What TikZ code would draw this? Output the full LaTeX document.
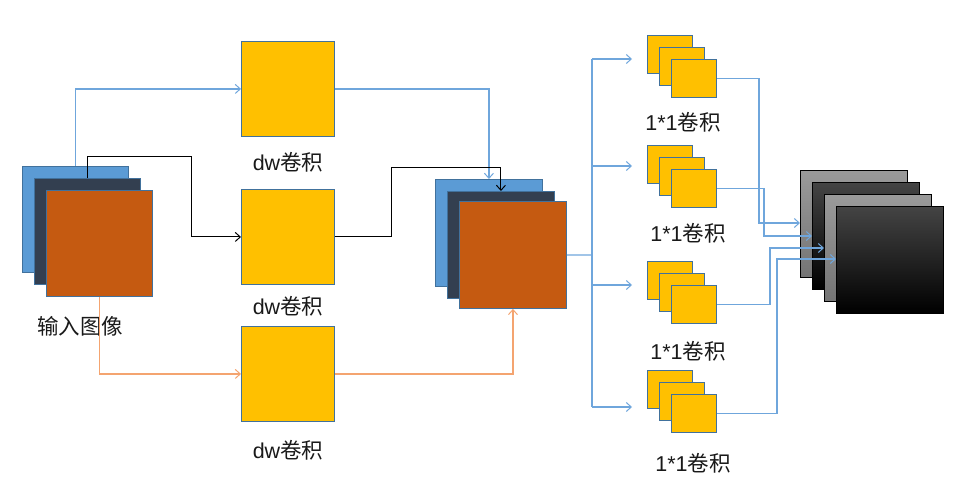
\documentclass[tikz,border=0pt]{standalone}
\usepackage{fontspec}
\setmainfont{Liberation Sans}
\newfontfamily\cjk{Noto Sans CJK SC}
\usetikzlibrary{arrows.meta}
\definecolor{cblue}{HTML}{5B9BD5}
\definecolor{cdark}{HTML}{333F50}
\definecolor{corange}{HTML}{C55A11}
\definecolor{cyellow}{HTML}{FFC000}
\definecolor{cborder}{HTML}{41719C}
\definecolor{lblue}{HTML}{6FA6DC}
\definecolor{lorange}{HTML}{F4A470}
\definecolor{gtop}{HTML}{9A9A9A}
\definecolor{gbot}{HTML}{747474}
\definecolor{dtop}{HTML}{444444}
\tikzset{
  x=1pt,y=-1pt,
  sq/.style={draw=cborder,line width=0.9pt,rectangle,inner sep=0pt,anchor=north west,minimum width=#1,minimum height=#1},
  big/.style={sq=106pt},
  dwbox/.style={draw=cborder,line width=0.9pt,fill=cyellow,rectangle,inner sep=0pt,anchor=north west,minimum width=93pt,minimum height=95pt},
  small/.style={draw=cborder,line width=0.9pt,fill=cyellow,rectangle,inner sep=0pt,anchor=north west,minimum width=45pt,minimum height=38pt},
  outg/.style={draw=black,line width=0.9pt,rectangle,inner sep=0pt,anchor=north west,minimum width=107pt,minimum height=107pt,top color=gtop,bottom color=gbot},
  outd/.style={draw=black,line width=0.9pt,rectangle,inner sep=0pt,anchor=north west,minimum width=107pt,minimum height=107pt,top color=dtop,middle color=black,bottom color=black},
  lab/.style={font=\fontsize{21.5}{26}\selectfont,text=black!90,inner sep=0pt},
  tip/.style={-{Straight Barb[length=5pt,width=9pt,line width=1pt]}},
  bl/.style={draw=lblue,line width=1.1pt},
  ol/.style={draw=lorange,line width=1.1pt},
  kl/.style={draw=black,line width=1pt},
}
\begin{document}
\begin{tikzpicture}
\useasboundingbox (0,0) rectangle (968,493);
% input stack
\node[big,fill=cblue] (in1) at (22,166) {};
\node[big,fill=cdark] (in2) at (34,178) {};
\node[big,fill=corange] (in3) at (46,190) {};
\node[lab] (inl) at (80,326) {\cjk 输入图像};
% dw boxes
\node[dwbox] (dw1) at (241,41) {};
\node[dwbox] (dw2) at (241,189) {};
\node[dwbox] (dw3) at (241,326) {};
\node[lab] (l1) at (288,162) {dw{\cjk 卷积}};
\node[lab] (l2) at (288,306) {dw{\cjk 卷积}};
\node[lab] (l3) at (288,450) {dw{\cjk 卷积}};
% middle stack
\node[sq=107pt,fill=cblue] (m1) at (435,179) {};
\node[sq=107pt,fill=cdark] (m2) at (447,191) {};
\node[sq=107pt,fill=corange] (m3) at (459,201) {};
% connectors left
\draw[bl,tip] (in1.north) |- (dw1.west);
\draw[kl,tip] (in2.north) |- (191,156) |- (dw2.west);
\draw[ol,tip] (in3.south) |- (dw3.west);
\draw[bl,tip] (dw1.east) -| (m1.north);
\draw[kl,tip] (dw2.east) -| (391,167) -| (m2.north);
\draw[ol,tip] (dw3.east) -| (m3.south);
% 1x1 groups
\foreach \i/\y in {1/35,2/145,3/261,4/370}{
  \node[small] (g\i a) at (647,\y) {};
  \node[small] (g\i b) at (659,\y+12) {};
  \node[small] (g\i c) at (671,\y+24) {};
}
\node[lab] (k1) at (683,122) {1*1{\cjk 卷积}};
\node[lab] (k2) at (688,233) {1*1{\cjk 卷积}};
\node[lab] (k3) at (688,351) {1*1{\cjk 卷积}};
\node[lab] (k4) at (693,463) {1*1{\cjk 卷积}};
% splitter
\coordinate (sp) at (592,255);
\coordinate (a1) at (632,59);
\coordinate (a2) at (632,166);
\coordinate (a3) at (632,285);
\coordinate (a4) at (632,407);
\draw[bl] (m3.east) -- (sp);
\draw[bl] (592,59) -- (592,407);
\draw[bl,tip] (592,59) -- (a1);
\draw[bl,tip] (592,166) -- (a2);
\draw[bl,tip] (592,285) -- (a3);
\draw[bl,tip] (592,407) -- (a4);
% output stack
\node[outg] (o1) at (800,170) {};
\node[outd] (o2) at (812,182) {};
\node[outg] (o3) at (824,194) {};
\node[outd] (o4) at (836,206) {};
\coordinate (t1) at (800,223);
\coordinate (t2) at (812,236);
\coordinate (t3) at (824,248);
\coordinate (t4) at (836,259);
\draw[bl,tip] (g1c.east) -| (759,223) -- (t1);
\draw[bl,tip] (g2c.east) -| (764,236) -- (t2);
\draw[bl,tip] (g3c.east) -| (770,248) -- (t3);
\draw[bl,tip] (g4c.east) -| (777,259) -- (t4);
\end{tikzpicture}
\end{document}
